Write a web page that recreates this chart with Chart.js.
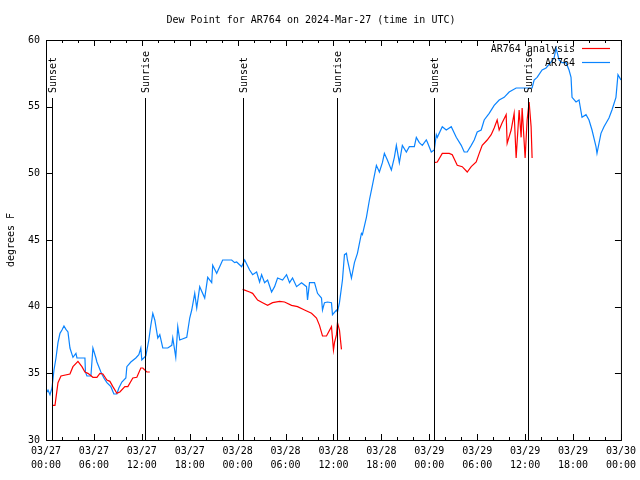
<!DOCTYPE html>
<html>
<head>
<meta charset="utf-8">
<script src="https://cdn.jsdelivr.net/npm/chart.js@4/dist/chart.umd.min.js"></script>
<style>
  html, body { margin: 0; padding: 0; background: #fff; }
  #wrap { width: 640px; height: 480px; }
</style>
</head>
<body>
<div id="wrap"><canvas id="dewChart" width="640" height="480"></canvas></div>
<script>
// hours since 03/27 00:00 UTC and dew point (F) for the station
const stationHours = [0, 0.25, 0.5, 0.75, 1, 1.25, 1.5, 1.75, 2, 2.25, 2.5, 2.75, 3, 3.375, 3.75, 3.875, 4.875, 4.94, 5.125, 5.625,
  5.875, 6.25, 6.375, 6.875, 7.25, 7.625, 8.125, 8.5, 8.875, 9.125, 9.5, 10, 10.125, 10.625, 11.25, 11.625, 11.875, 12, 12.5, 12.875,
  13.125, 13.375, 13.625, 14, 14.25, 14.625, 15.25, 15.75, 15.875, 16.25, 16.5, 16.75, 17.625, 18, 18.25, 18.625, 18.875, 19.25, 19.875, 20.25,
  20.75, 20.875, 21.375, 21.75, 22.125, 23.25, 23.625, 23.875, 24.5, 24.875, 25.5, 25.875, 26.375, 26.75, 27, 27.375, 27.75, 28.25, 28.625, 29,
  29.625, 30.125, 30.5, 30.875, 31.375, 32, 32.625, 32.75, 33, 33.625, 34, 34.5, 34.625, 34.875, 35.25, 35.75, 35.875, 36.375, 36.5, 36.75,
  37.125, 37.375, 37.625, 37.75, 38.25, 38.625, 39, 39.5, 39.625, 40.125, 40.5, 40.875, 41.375, 41.75, 42.125, 42.375, 42.75, 43.25, 43.625, 43.875,
  44.25, 44.625, 45.125, 45.5, 46.125, 46.375, 46.75, 47.125, 47.625, 47.75, 48.25, 48.625, 48.875, 49, 49.625, 50.125, 50.75, 51.375, 52, 52.375,
  52.75, 53.25, 53.625, 54, 54.5, 54.875, 55.5, 56.125, 56.75, 57.375, 58, 58.875, 60.875, 61.125, 61.5, 62.125, 62.625, 63.25, 63.625, 63.875,
  64.25, 64.625, 65.125, 65.5, 65.75, 65.875, 66.375, 66.75, 67.125, 67.625, 68, 68.375, 68.875, 69, 69.5, 69.875, 70.5, 70.875, 71.375, 71.625, 72];
const stationDew = [33.5, 33.75, 33.4, 33.9, 35.25, 36.15, 37.3, 38.0, 38.25, 38.55, 38.3, 38.1, 36.9, 36.2, 36.5, 36.15, 36.15, 35.1, 34.8, 34.8,
  36.9, 36.15, 35.85, 35.1, 34.65, 34.3, 34.0, 33.45, 33.45, 33.9, 34.35, 34.65, 35.5, 35.85, 36.15, 36.4, 36.9, 36.0, 36.3, 37.5,
  38.6, 39.5, 39.0, 37.65, 37.9, 36.9, 36.9, 37.1, 37.65, 36.2, 38.5, 37.5, 37.7, 39.15, 39.75, 41.0, 39.9, 41.5, 40.65, 42.2,
  41.8, 43.1, 42.5, 43.0, 43.5, 43.5, 43.3, 43.35, 43.0, 43.5, 42.75, 42.4, 42.6, 41.85, 42.4, 41.8, 42.0, 41.1, 41.5, 42.15,
  42.0, 42.4, 41.8, 42.15, 41.5, 41.8, 41.5, 40.5, 41.8, 41.8, 41.0, 40.65, 39.75, 40.3, 40.35, 40.3, 39.4, 39.75, 39.6, 40.3,
  42.0, 43.9, 44.0, 43.5, 42.15, 43.3, 44.0, 45.5, 45.4, 46.7, 48.0, 49.1, 50.6, 50.1, 50.8, 51.5, 51.0, 50.25, 51.2, 52.1,
  50.8, 52.1, 51.6, 52.0, 52.0, 52.7, 52.3, 52.1, 52.5, 52.35, 51.6, 51.75, 52.9, 52.7, 53.5, 53.25, 53.5, 52.7, 52.1, 51.6,
  51.6, 52.1, 52.5, 53.1, 53.25, 54.0, 54.5, 55.1, 55.5, 55.7, 56.1, 56.4, 56.4, 57.0, 57.2, 57.75, 57.9, 58.35, 58.65, 59.4,
  58.5, 58.3, 58.3, 57.75, 57.2, 55.7, 55.35, 55.5, 54.2, 54.4, 54.0, 53.25, 52.0, 51.5, 53.0, 53.5, 54.15, 54.75, 55.7, 57.4, 57.0];

// analysis series (null = no analysis, line is broken there)
const analysisHours = [0.75, 1.125, 1.5, 1.875, 3, 3.375, 4, 4.5, 4.875, 5.25, 5.875, 6.375, 6.75, 7.125, 7.625, 8, 8.375, 8.875, 9.25, 9.875,
  10.25, 10.875, 11.375, 11.875, 12.125, 12.625, 13, 18,
  24.625, 25.5, 25.875, 26.5, 27.125, 27.75, 28.375, 29.25, 29.875, 30.75, 31.5, 32.375, 33.25, 33.875, 34.25, 34.625, 35.125, 35.75,
  36, 36.125, 36.375, 36.5, 36.75, 37, 42,
  48.625, 49, 49.625, 50.5, 50.875, 51.5, 52.125, 52.75, 53.25, 53.875, 54.25, 54.625, 55.25, 55.75, 56.125, 56.5, 56.75, 57.125, 57.625, 57.75,
  58.25, 58.625, 58.875, 59.25, 59.5, 59.625, 60, 60.25, 60.5, 60.75, 60.875];
const analysisDew = [32.6, 32.6, 34.3, 34.8, 34.95, 35.5, 35.9, 35.5, 35.1, 35.0, 34.7, 34.7, 35.0, 34.95, 34.5, 34.4, 34.0, 33.5, 33.6, 34.0,
  34.0, 34.65, 34.7, 35.4, 35.4, 35.1, 35.1, null,
  41.3, 41.1, 41.0, 40.5, 40.3, 40.1, 40.3, 40.4, 40.35, 40.1, 40.0, 39.75, 39.5, 39.15, 38.6, 37.8, 37.8, 38.5,
  36.75, 37.3, 37.9, 38.8, 38.25, 36.8, null,
  50.8, 50.85, 51.5, 51.5, 51.4, 50.6, 50.5, 50.1, 50.5, 50.85, 51.5, 52.1, 52.5, 52.9, 53.4, 54.0, 53.25, 53.8, 54.4, 52.25,
  53.25, 54.5, 51.15, 54.75, 52.7, 54.9, 51.15, 54.0, 55.35, 53.5, 51.15];

// sunrise / sunset markers (hours)
const sunHours = [0.69, 12.44, 24.63, 36.4, 48.63, 60.3];
const sunNames = ['Sunset', 'Sunrise', 'Sunset', 'Sunrise', 'Sunset', 'Sunrise'];

// x tick labels, one per 6 hours
const tickDates = ['03/27', '03/27', '03/27', '03/27', '03/28', '03/28', '03/28', '03/28', '03/29', '03/29', '03/29', '03/29', '03/30'];
const tickTimes = ['00:00', '06:00', '12:00', '18:00', '00:00', '06:00', '12:00', '18:00', '00:00', '06:00', '12:00', '18:00', '00:00'];

const RED = '#ff0000';
const BLUE = '#0a84ff';
const FONT = "'DejaVu Sans Mono', 'Liberation Mono', monospace";
Chart.defaults.font.family = FONT;
Chart.defaults.font.size = 10;
Chart.defaults.color = '#000';

// frame, inward ticks, sun markers and gnuplot-like key
const gnuplotBits = {
  id: 'gnuplotBits',
  afterDatasetsDraw(chart) {
    const ctx = chart.ctx;
    const a = chart.chartArea;
    const xs = chart.scales.x;
    const ys = chart.scales.y;
    ctx.save();
    ctx.strokeStyle = '#000';
    ctx.lineWidth = 1;

    // sun lines
    ctx.fillStyle = '#000';
    ctx.font = '10px ' + FONT;
    sunHours.forEach((h, i) => {
      const px = Math.round(xs.getPixelForValue(h)) + 0.5;
      ctx.beginPath();
      ctx.moveTo(px, 98);
      ctx.lineTo(px, a.bottom);
      ctx.stroke();
      ctx.save();
      ctx.translate(px + 1, 93);
      ctx.rotate(-Math.PI / 2);
      ctx.textAlign = 'left';
      ctx.textBaseline = 'middle';
      ctx.fillText(sunNames[i], 0, 0);
      ctx.restore();
    });

    // frame
    ctx.strokeRect(a.left + 0.5, a.top + 0.5, a.right - a.left, a.bottom - a.top);

    // x ticks, every 2 h minor, every 6 h major
    ctx.beginPath();
    for (let h = 0; h <= 72; h += 2) {
      const px = Math.round(xs.getPixelForValue(h)) + 0.5;
      const len = h % 6 === 0 ? 6 : 3;
      ctx.moveTo(px, a.bottom);
      ctx.lineTo(px, a.bottom - len);
      ctx.moveTo(px, a.top);
      ctx.lineTo(px, a.top + len);
    }
    ys.ticks.forEach(t => {
      const py = Math.round(ys.getPixelForValue(t.value)) + 0.5;
      ctx.moveTo(a.left, py);
      ctx.lineTo(a.left + 6, py);
      ctx.moveTo(a.right, py);
      ctx.lineTo(a.right - 6, py);
    });
    ctx.stroke();

    // key
    const keyColors = [RED, BLUE];
    chart.data.datasets.forEach((ds, i) => {
      const y = 48 + i * 14;
      ctx.fillStyle = '#000';
      ctx.textAlign = 'right';
      ctx.textBaseline = 'middle';
      ctx.fillText(ds.label, 575, y + 1);
      ctx.strokeStyle = keyColors[i];
      ctx.lineWidth = 1.2;
      ctx.beginPath();
      ctx.moveTo(582, y + 0.5);
      ctx.lineTo(610, y + 0.5);
      ctx.stroke();
    });
    ctx.restore();
  }
};

const stationPoints = stationHours.map((h, i) => ({x: h, y: stationDew[i]}));
const analysisPoints = analysisHours.map((h, i) => ({x: h, y: analysisDew[i]}));

const chart = new Chart(document.getElementById('dewChart'), {
  type: 'line',
  data: {
    datasets: [
      {
        label: 'AR764 analysis',
        data: analysisPoints,
        borderColor: RED,
        borderWidth: 1.2,
        pointRadius: 0,
        tension: 0,
        spanGaps: false
      },
      {
        label: 'AR764',
        data: stationPoints,
        borderColor: BLUE,
        borderWidth: 1.2,
        pointRadius: 0,
        tension: 0
      }
    ]
  },
  options: {
    responsive: false,
    animation: false,
    layout: { padding: { left: 0, right: 18, top: 0, bottom: 0 } },
    plugins: {
      legend: { display: false },
      tooltip: { enabled: false },
      title: {
        display: true,
        text: 'Dew Point for AR764 on 2024-Mar-27 (time in UTC)',
        font: { size: 10, weight: 'normal', lineHeight: 1.2 },
        color: '#000',
        padding: { top: 14, bottom: 14 }
      }
    },
    scales: {
      x: {
        type: 'linear',
        min: 0,
        max: 72,
        grid: { display: false, drawTicks: false },
        border: { display: false },
        ticks: {
          stepSize: 6,
          autoSkip: false,
          maxRotation: 0,
          padding: 4,
          font: { size: 10, lineHeight: 1.4 },
          callback: (v) => {
            const i = Math.round(v / 6);
            return [tickDates[i], tickTimes[i]];
          }
        },
        afterFit: (s) => { s.height = 40; }
      },
      y: {
        min: 30,
        max: 60,
        grid: { display: false, drawTicks: false },
        border: { display: false },
        ticks: { stepSize: 5, padding: 6 },
        title: {
          display: true,
          text: 'degrees F',
          font: { size: 10 },
          padding: { top: 5, bottom: 0 }
        },
        afterFit: (s) => { s.width = 46; }
      }
    }
  },
  plugins: [gnuplotBits]
});
</script>
</body>
</html>
